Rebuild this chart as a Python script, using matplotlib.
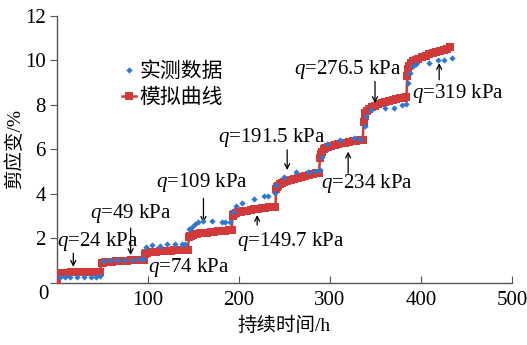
import numpy as np
import matplotlib
matplotlib.use('Agg')
from matplotlib import pyplot as plt

plt.rcParams['font.family'] = ['Liberation Serif', 'Noto Sans CJK SC']
plt.rcParams['mathtext.fontset'] = 'custom'
plt.rcParams['mathtext.it'] = 'Liberation Serif:italic'
plt.rcParams['mathtext.rm'] = 'Liberation Serif'

BLUE = '#2f78d2'
RED = '#d03a3a'

# 实测数据 (h, %)
t_meas = [3, 9, 14, 22, 30, 37, 43, 47,
          51, 58, 66, 74, 82, 90, 95,
          98, 104, 113, 121, 130, 137, 141,
          145, 148, 152, 155, 161, 170, 181, 185, 190,
          194, 197, 203, 216, 228, 232, 240,
          241, 250, 263, 276, 284, 289,
          291, 297, 311, 326, 333,
          338, 340, 345, 360, 370, 379, 384,
          386, 388, 391, 395, 409, 419, 425, 434]
v_meas = [0.25, 0.25, 0.26, 0.26, 0.27, 0.27, 0.28, 0.30,
          1.00, 1.02, 1.03, 1.04, 1.05, 1.06, 1.07,
          1.62, 1.70, 1.68, 1.73, 1.74, 1.74, 1.77,
          2.40, 2.52, 2.65, 2.72, 2.78, 2.80, 2.75, 2.75, 2.75,
          3.20, 3.45, 3.60, 3.75, 3.90, 3.90, 4.03,
          4.40, 4.75, 5.00, 5.00, 5.05, 5.08,
          5.68, 6.23, 6.43, 6.50, 6.48,
          7.05, 7.48, 7.76, 7.85, 7.88, 8.00, 8.05,
          9.00, 9.45, 9.73, 9.82, 9.90, 10.00, 10.00, 10.10]

# 模拟曲线: 每级荷载起始时间 + 级内时间
stage_start = [0, 49, 97, 145, 193, 241, 289, 337, 385]
stage_hours = [0, 1, 2, 4, 6, 9, 12, 16, 20, 24, 28, 32, 36, 40, 44, 47]
model_stages = [
    [0.08, 0.42, 0.43, 0.44, 0.45, 0.45, 0.46, 0.47, 0.47, 0.48, 0.48, 0.49, 0.49, 0.50, 0.50, 0.51],
    [0.88, 0.90, 0.91, 0.93, 0.94, 0.95, 0.96, 0.97, 0.98, 0.99, 1.00, 1.01, 1.02, 1.03, 1.04, 1.05],
    [1.30, 1.33, 1.35, 1.37, 1.38, 1.40, 1.41, 1.42, 1.43, 1.44, 1.45, 1.46, 1.47, 1.48, 1.49, 1.50],
    [2.05, 2.10, 2.13, 2.16, 2.18, 2.20, 2.22, 2.24, 2.26, 2.28, 2.29, 2.31, 2.32, 2.34, 2.36, 2.38],
    [3.00, 3.06, 3.10, 3.14, 3.17, 3.20, 3.22, 3.25, 3.28, 3.30, 3.32, 3.35, 3.37, 3.39, 3.41, 3.43],
    [4.20, 4.30, 4.36, 4.43, 4.48, 4.53, 4.58, 4.63, 4.68, 4.72, 4.76, 4.80, 4.84, 4.88, 4.92, 4.96],
    [5.60, 5.78, 5.90, 6.00, 6.06, 6.12, 6.16, 6.20, 6.24, 6.27, 6.30, 6.33, 6.36, 6.39, 6.42, 6.44],
    [7.25, 7.50, 7.62, 7.74, 7.81, 7.90, 7.96, 8.03, 8.08, 8.13, 8.17, 8.21, 8.25, 8.29, 8.33, 8.37],
    [9.30, 9.60, 9.75, 9.88, 9.95, 10.02, 10.08, 10.15, 10.21, 10.27, 10.33, 10.38, 10.43, 10.48, 10.53, 10.58],
]

t_model = np.concatenate([s + np.array(stage_hours) for s in stage_start])
v_model = np.concatenate(model_stages)

# 荷载标注: 文字(左端, 中心) 与 箭头(尾, 头)
labels = ['24', '49', '74', '109', '149.7', '191.5', '234', '276.5', '319']
label_pos = [(0.5, 1.88), (36, 3.14), (100, 0.71), (109, 4.49), (198, 1.86),
             (177, 6.52), (290, 4.48), (261, 9.58), (390, 8.53)]
arrows = [((18, 1.33), (18, 0.72)), ((81, 2.46), (81, 1.25)), None,
          ((161, 3.80), (161, 2.70)), ((220, 2.60), (220, 3.05)),
          ((253, 5.98), (253, 5.07)), ((320, 4.93), (320, 5.90)),
          ((349.5, 9.05), (349.5, 8.08)), ((420, 9.13), (420, 9.88))]

fig = plt.figure(figsize=(5.27, 3.45), dpi=100)
ax = fig.add_axes([0.108, 0.18, 0.8635, 0.774])

ax.plot(t_meas, v_meas, 'D', color=BLUE, ms=3.2, mew=0, label='实测数据', zorder=4)
ax.plot(t_model, v_model, '-s', color=RED, ms=5.3, lw=1.8, mew=0, label='模拟曲线', zorder=3)

for lab, (tx, ty), arr in zip(labels, label_pos, arrows):
    ax.text(tx, ty, r'$q$=' + lab + ' kPa', fontsize=15, va='center', ha='left', zorder=5)
    if arr is not None:
        ax.annotate('', xy=arr[1], xytext=arr[0],
                    arrowprops=dict(arrowstyle='->', color='black', lw=0.9,
                                    shrinkA=0, shrinkB=0, mutation_scale=9))

ax.set_xlim(0, 500)
ax.set_ylim(0, 12)
ax.set_xticks([0, 100, 200, 300, 400, 500])
ax.set_xticklabels(['', '100', '200', '300', '400', '500'])
ax.set_yticks([0, 2, 4, 6, 8, 10, 12])
ax.set_yticklabels(['', '2', '4', '6', '8', '10', '12'])
ax.tick_params(axis='x', direction='in', length=5, labelsize=15, pad=6, color='#555555')
ax.tick_params(axis='y', direction='out', length=5, labelsize=15, pad=3, color='#555555')
for side in ['top', 'right']:
    ax.spines[side].set_visible(False)
for side in ['left', 'bottom']:
    ax.spines[side].set_color('#555555')
    ax.spines[side].set_linewidth(1.0)

fig.text(0.0816, 0.145, '0', fontsize=15, ha='center', va='center')
ax.set_xlabel('持续时间/h', fontsize=14, labelpad=5)
ax.set_ylabel('剪应变/%', fontsize=14, labelpad=1)

ax.legend(loc='upper left', bbox_to_anchor=(0.11, 0.88), frameon=False, fontsize=15,
          handlelength=0.7, handletextpad=0.15, labelspacing=0.29, borderpad=0.2)

fig.savefig('out.png', dpi=100)
